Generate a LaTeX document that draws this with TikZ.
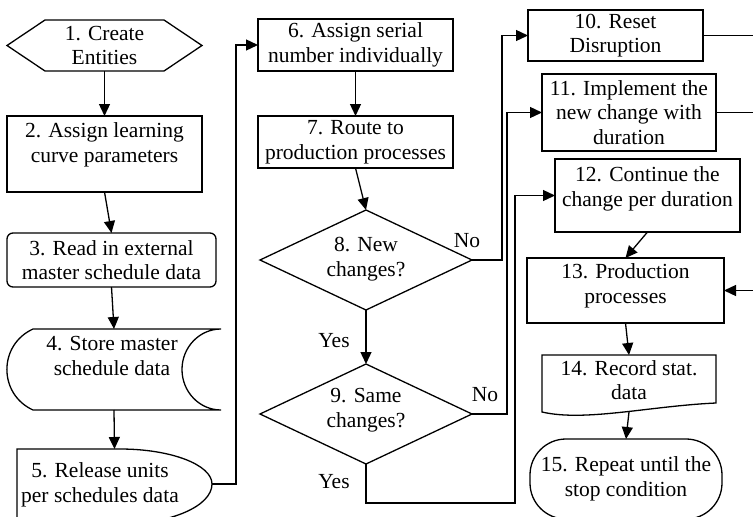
\documentclass[tikz,border=0pt]{standalone}
\usepackage{fontspec}
\setmainfont{Liberation Serif}
\usetikzlibrary{arrows.meta,shapes.geometric,calc}
\newcommand\figfont{\fontsize{21.5}{24.5}\selectfont}
\begin{document}
\begin{tikzpicture}[x=1pt,y=-1pt,
  line width=1.3pt,
  lbl/.style={font=\figfont, align=center, inner sep=0pt},
  bbox/.style={inner sep=0pt, outer sep=0pt, anchor=north west, minimum width=#1},
  rectn/.style={draw, inner sep=0pt, outer sep=0pt, anchor=north west, minimum width=#1},
  dia/.style={draw, shape=diamond, inner sep=0pt, outer sep=0pt, minimum width=212pt, minimum height=100pt},
  arr/.style={-{Triangle[length=12pt,width=11pt]}}
]
\useasboundingbox (0,0) rectangle (753,517);
\coordinate (rt) at (760,0);

% ---------- nodes (shapes) ----------
\node[bbox=195pt, minimum height=51pt] (n1) at (7,20) {};
\draw (n1.west) -- (45,20) -- (164,20) -- (n1.east) -- (164,71) -- (45,71) -- cycle;

\node[rectn=195pt, minimum height=76pt] (n2) at (7,116) {};
\node[rectn=209pt, minimum height=54pt, rounded corners=6pt] (n3) at (7,233) {};

\node[bbox=214pt, minimum height=81pt] (n4) at (7,329) {};
\draw (33,329) -- (221,329) .. controls (199.5,329) and (182,347.1) .. (182,369.5)
      .. controls (182,391.9) and (199.5,410) .. (221,410) -- (33,410)
      .. controls (-1.8,394.1) and (-1.8,344.9) .. (33,329) -- cycle;

\node[bbox=195pt, minimum height=70pt] (n5) at (17,449) {};
\draw (17,524) -- (17,449) -- (120,449) .. controls (170.8,449) and (212,464.7) .. (212,484)
      .. controls (212,506.1) and (170.8,524) .. (120,524) -- cycle;

\node[rectn=195pt, minimum height=52pt] (n6) at (258,19) {};
\node[rectn=195pt, minimum height=52pt] (n7) at (258,116) {};
\node[dia] (n8) at (366,260) {};
\node[dia] (n9) at (366,414) {};

\node[rectn=175pt, minimum height=51pt] (n10) at (528,10) {};
\node[rectn=174pt, minimum height=77pt] (n11) at (542,74) {};
\node[rectn=185pt, minimum height=73pt] (n12) at (555,159) {};
\node[rectn=197pt, minimum height=65pt] (n13) at (527,258) {};

\node[bbox=174pt, minimum height=57pt] (n14) at (542,355) {};
\draw (542,412) -- (542,355) -- (716,355) -- (716,403)
      .. controls (650,406) and (585,422) .. (542,412) -- cycle;

\node[rectn=192pt, minimum height=80pt, rounded corners=36pt] (n15) at (530,439) {};

% ---------- texts ----------
\node[lbl] (t1) at (104.5,45.5) {1. Create\\Entities};
\node[lbl] (t2) at (104.5,145) {2. Assign learning\\curve parameters};
\node[lbl] (t3) at (111.5,260) {3. Read in external\\master schedule data};
\node[lbl] (t4) at (112,356) {4. Store master\\schedule data};
\node[lbl] (t5) at (100,485) {5. Release units\\per schedules data};
\node[lbl] (t6) at (355.5,45) {6. Assign serial\\number individually};
\node[lbl] (t7) at (355.5,142) {7. Route to\\production processes};
\node[lbl] (t8) at (366,259) {8. New\\changes?};
\node[lbl] (t9) at (366,410) {9. Same\\changes?};
\node[lbl] (t10) at (615.5,35.5) {10. Reset\\Disruption};
\node[lbl] (t11) at (629,112.5) {11. Implement the\\new change with\\duration};
\node[lbl] (t12) at (647.5,189) {12. Continue the\\change per duration};
\node[lbl] (t13) at (625.5,286) {13. Production\\processes};
\node[lbl] (t14) at (629,380) {14. Record stat.\\data};
\node[lbl] (t15) at (626,479) {15. Repeat until the\\stop condition};

\node[lbl] (no8) at (467,241) {No};
\node[lbl] (yes8) at (334,340.5) {Yes};
\node[lbl] (no9) at (485,395) {No};
\node[lbl] (yes9) at (334,481.5) {Yes};

% ---------- connectors ----------
\draw[arr] (n1.south) -- (n2.north);
\draw[arr] (n2.south) -- (n3.north);
\draw[arr] (n3.south) -- (n4.north);
\draw[arr] (n4.south) -- (n5.north);
\draw[arr] (212,484) -- (236,484) |- (n6.west);
\draw[arr] (n6.south) -- (n7.north);
\draw[arr] (n7.south) -- (n8.north);
\draw[arr] (n8.south) -- (n9.north);
\draw[arr] (n8.east) -- ++(30,0) |- (n10.west);
\draw[arr] (n9.east) -- ++(35,0) |- (n11.west);
\draw[arr] (n9.south) |- (515,503) |- (n12.west);
\draw[arr] (n12.south) -- (n13.north);
\draw[arr] (n10.east) -- (n10.east -| rt) |- (n13.east);
\draw (n11.east) -- (n11.east -| rt);
\draw[arr] (n13.south) -- (n14.north);
\draw[arr] (n14.south) -- (n15.north);
\end{tikzpicture}
\end{document}
